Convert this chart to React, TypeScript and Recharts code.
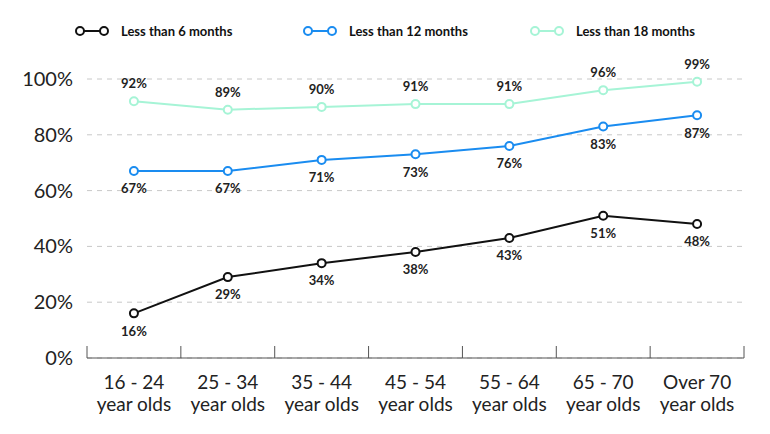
import React from 'react';
import { LineChart, Line, XAxis, YAxis, CartesianGrid, Legend, LabelList } from 'recharts';

const ageGroups = ['16 - 24|year olds', '25 - 34|year olds', '35 - 44|year olds', '45 - 54|year olds', '55 - 64|year olds', '65 - 70|year olds', 'Over 70|year olds'];
const lessThan6 = [16, 29, 34, 38, 43, 51, 48];
const lessThan12 = [67, 67, 71, 73, 76, 83, 87];
const lessThan18 = [92, 89, 90, 91, 91, 96, 99];
const yTicks = [0, 20, 40, 60, 80, 100];

const seriesInfo = [
  { key: 'm6', name: 'Less than 6 months', color: '#111111', labelPos: 'bottom' },
  { key: 'm12', name: 'Less than 12 months', color: '#1a8cf0', labelPos: 'bottom' },
  { key: 'm18', name: 'Less than 18 months', color: '#a6f4d6', labelPos: 'top' },
];

const data = ageGroups.map((group, i) => ({
  group,
  m6: lessThan6[i],
  m12: lessThan12[i],
  m18: lessThan18[i],
}));

// category label plus the boundary tick marks that rise from the axis line
const AgeTick = (props: any) => {
  const { x, y, payload, width, visibleTicksCount, index } = props;
  const [top, bottom] = String(payload.value).split('|');
  const half = width / visibleTicksCount / 2;
  const last = index === visibleTicksCount - 1;
  return (
    <g>
      <line x1={x - half} x2={x - half} y1={y} y2={y - 12} stroke="#555" />
      {last && <line x1={x + half} x2={x + half} y1={y} y2={y - 12} stroke="#555" />}
      <text x={x} y={y} textAnchor="middle" fill="#222" fontSize={19}>
        <tspan x={x} dy={31}>{top}</tspan>
        <tspan x={x} dy={22}>{bottom}</tspan>
      </text>
    </g>
  );
};

const PercentTick = (props: any) => {
  const { x, y, payload } = props;
  return (
    <text x={x + 5} y={y} dy={7} textAnchor="end" fill="#222" fontSize={20}>
      {`${payload.value}%`}
    </text>
  );
};

const legendLeft = [0, 228, 455];

const TopLegend = () => (
  <div style={{ position: 'relative', height: 22, width: 700 }}>
    {seriesInfo.map((s, i) => (
      <div key={s.key} style={{ position: 'absolute', left: legendLeft[i], top: 0, display: 'flex', alignItems: 'center', height: 22 }}>
        <svg width={34} height={12}>
          <line x1={5} y1={6} x2={29} y2={6} stroke={s.color} strokeWidth={2} />
          <circle cx={5} cy={6} r={4} fill="#fff" stroke={s.color} strokeWidth={2} />
          <circle cx={29} cy={6} r={4} fill="#fff" stroke={s.color} strokeWidth={2} />
        </svg>
        <span style={{ marginLeft: 12, fontSize: 13, fontWeight: 700, color: '#111' }}>{s.name}</span>
      </div>
    ))}
  </div>
);

export default function App() {
  return (
    <div style={{ fontFamily: 'Lato, sans-serif' }}>
      <LineChart width={754} height={426} data={data} margin={{ top: 49, right: 18, left: 0, bottom: 0 }}>
        <Legend verticalAlign="top" align="left" content={<TopLegend />} wrapperStyle={{ left: 67, top: 12 }} />
        <CartesianGrid vertical={false} strokeDasharray="5 5" stroke="#c8c8c8" />
        <XAxis dataKey="group" scale="band" stroke="#555" tickLine={false} tickSize={0} tickMargin={0} tick={<AgeTick />} height={76} interval={0} />
        <YAxis domain={[0, 100]} ticks={yTicks} axisLine={false} tickLine={false} width={79} tickMargin={13} tick={<PercentTick />} />
        {seriesInfo.map((s) => (
          <Line
            key={s.key}
            dataKey={s.key}
            name={s.name}
            stroke={s.color}
            strokeWidth={2}
            dot={{ r: 4, fill: '#fff', stroke: s.color, strokeWidth: 2 }}
            activeDot={false}
            isAnimationActive={false}
          >
            <LabelList dataKey={s.key} position={s.labelPos as any} offset={13} formatter={(v: any) => `${v}%`} style={{ fontSize: 13, fontWeight: 700, fill: '#222' }} />
          </Line>
        ))}
      </LineChart>
    </div>
  );
}
